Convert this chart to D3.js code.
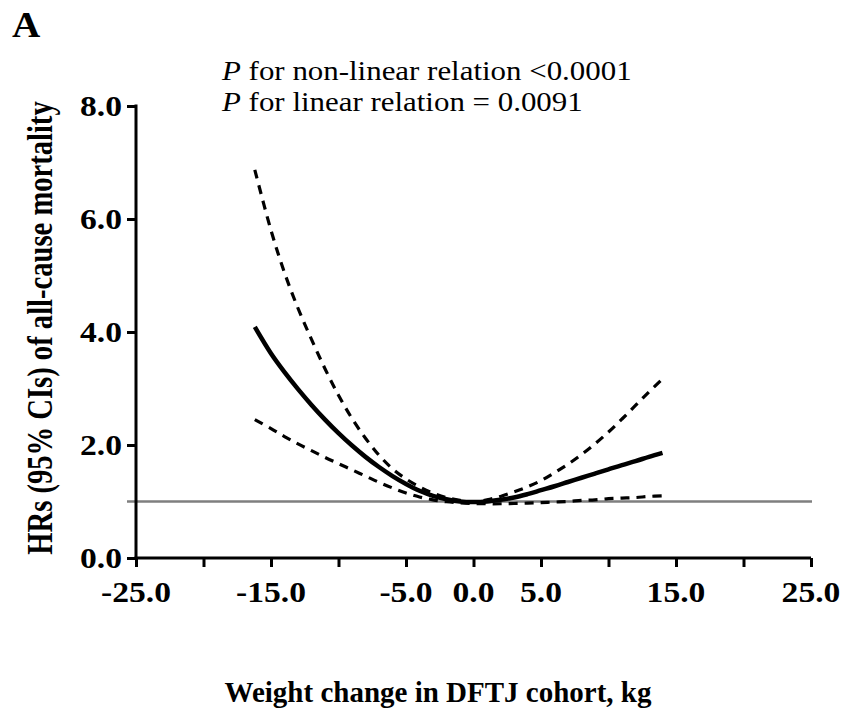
<!DOCTYPE html>
<html><head><meta charset="utf-8">
<script src="https://cdn.jsdelivr.net/npm/d3@7"></script>
<style>
html,body{margin:0;padding:0;background:#fff;}
text{font-family:"Liberation Serif","Times New Roman",serif;}
</style></head>
<body><svg id="c" width="843" height="710"></svg>
<script>
const weight = [-16.2,-15,-14,-13,-12,-11,-10,-9,-8,-7,-6,-5,-4,-3,-2,-1,0,1,2,3,4,5,6,7,8,9,10,11,12,13,14];
const hr =     [4.09,3.62,3.29,2.99,2.71,2.45,2.21,1.99,1.79,1.61,1.45,1.31,1.19,1.10,1.04,1.00,0.99,1.00,1.03,1.07,1.13,1.20,1.27,1.345,1.42,1.495,1.57,1.645,1.715,1.79,1.86];
const upper =  [6.87,5.80,5.05,4.42,3.87,3.35,2.88,2.47,2.12,1.82,1.58,1.40,1.26,1.15,1.07,1.02,0.99,1.03,1.09,1.17,1.26,1.37,1.51,1.66,1.83,2.02,2.23,2.46,2.70,2.94,3.17];
const lower =  [2.45,2.29,2.15,2.02,1.90,1.78,1.67,1.56,1.45,1.34,1.24,1.15,1.08,1.03,0.995,0.975,0.965,0.96,0.96,0.965,0.97,0.98,0.99,1.00,1.02,1.03,1.05,1.06,1.07,1.09,1.10];
const xTicks = [-25,-20,-15,-10,-5,0,5,10,15,20,25];
const xTickLabels = ["-25.0","","-15.0","","-5.0","0.0","5.0","","15.0","","25.0"];
const yTicks = [0,2,4,6,8];
const yTickLabels = ["0.0","2.0","4.0","6.0","8.0"];
const refValue = 1.0;
const panelLabel = "A";
const annotations = ["for non-linear relation <0.0001","for linear relation = 0.0091"];
const xTitle = "Weight change in DFTJ cohort, kg";
const yTitle = "HRs (95% CIs) of all-cause mortality";

const SX = 1.12;
const svg = d3.select("#c");
const x = d3.scaleLinear().domain([-25,25]).range([136,811]);
const y = d3.scaleLinear().domain([0,8]).range([558,106]);

function txt(g, xx, yy, s, size, weight, anchor, rot, sx){
  return g.append("text")
    .attr("transform", `translate(${xx},${yy}) scale(${sx||SX},1)` + (rot?` rotate(${rot})`:""))
    .attr("font-size", size).attr("font-weight", weight)
    .attr("text-anchor", anchor).attr("fill","#000").text(s);
}

// reference line
svg.append("line").attr("x1",127).attr("x2",x(25)+1).attr("y1",y(refValue)).attr("y2",y(refValue))
  .attr("stroke","#7f7f7f").attr("stroke-width",2.6);

// axes
const gx = svg.append("g").attr("transform",`translate(0,${y(0)})`)
  .call(d3.axisBottom(x).tickValues(xTicks).tickSize(9).tickFormat(""));
const gy = svg.append("g").attr("transform",`translate(${x(-25)},0)`)
  .call(d3.axisLeft(y).tickValues(yTicks).tickSize(9).tickFormat(""));
[gx,gy].forEach(g=>{
  g.select(".domain").attr("stroke","#000").attr("stroke-width",3);
  g.selectAll(".tick line").attr("stroke","#000").attr("stroke-width",3);
});
gx.select(".domain").attr("d",`M${x(-25)-1.5},0H${x(25)}`);
gy.select(".domain").attr("d",`M0,${y(8)-1.5}V${y(0)+1.5}`);

xTicks.forEach((t,i)=>{ if(xTickLabels[i]) txt(svg, x(t), 602, xTickLabels[i], 30, "bold", "middle"); });
yTicks.forEach((t,i)=>{ txt(svg, 122, y(t)+10, yTickLabels[i], 30, "bold", "end"); });

// curves
const line = d3.line().x((d,i)=>x(weight[i])).y(d=>y(d)).curve(d3.curveCatmullRom.alpha(0.5));
svg.append("path").attr("d",line(upper)).attr("fill","none").attr("stroke","#000")
  .attr("stroke-width",3.2).attr("stroke-dasharray","9,7");
svg.append("path").attr("d",line(lower)).attr("fill","none").attr("stroke","#000")
  .attr("stroke-width",3.2).attr("stroke-dasharray","9,7");
svg.append("path").attr("d",line(hr)).attr("fill","none").attr("stroke","#000")
  .attr("stroke-width",4.5);

// texts
txt(svg, 12, 37, panelLabel, 35, "bold", "start");
annotations.forEach((a,i)=>{
  const t = svg.append("text").attr("transform",`translate(222,${80+i*31}) scale(${SX},1)`)
    .attr("font-size",27.6).attr("fill","#000");
  t.append("tspan").attr("font-style","italic").text("P");
  t.append("tspan").text(" "+a);
});
txt(svg, 438, 702, xTitle, 29, "bold", "middle", null, 1.0);
txt(svg, 52, 328, yTitle, 28.6, "bold", "middle", -90, 1.25);
</script></body></html>
